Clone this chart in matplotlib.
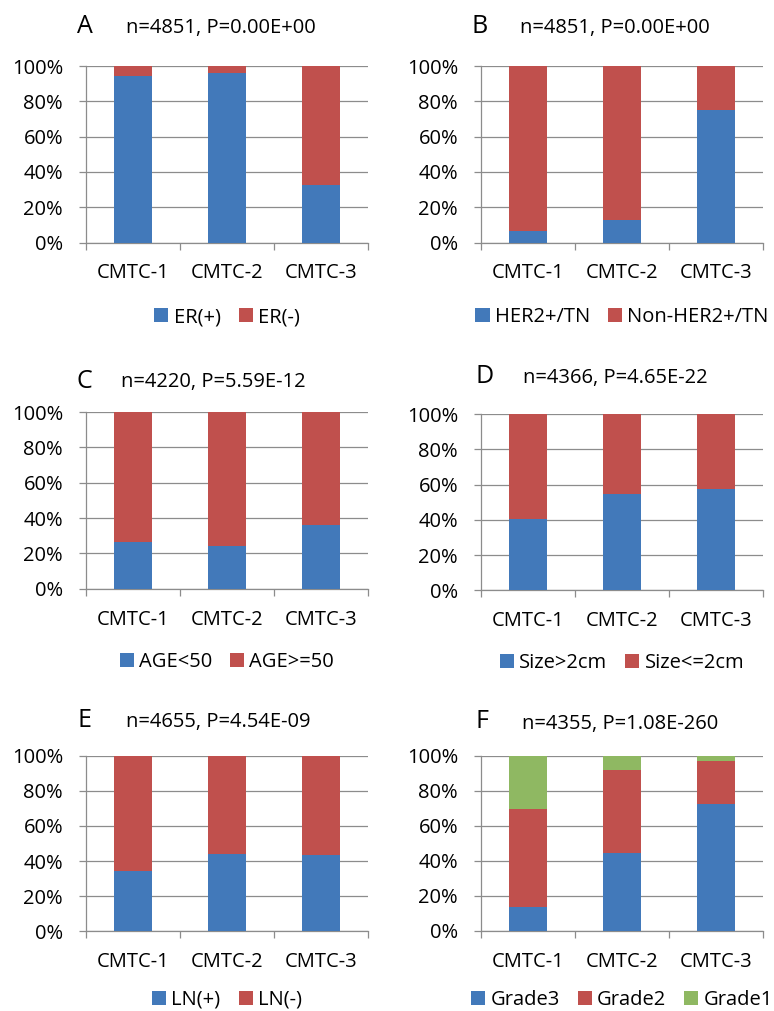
import matplotlib
matplotlib.use("Agg")
import matplotlib.pyplot as plt
from matplotlib.patches import Rectangle
from matplotlib.ticker import FuncFormatter

plt.rcParams['font.family'] = ['Open Sans', 'DejaVu Sans']

categories = ['CMTC-1', 'CMTC-2', 'CMTC-3']

er_pos = [94.3, 96.0, 32.4]
er_neg = [5.7, 4.0, 67.6]

her2_tn = [6.3, 12.6, 74.9]
non_her2_tn = [93.7, 87.4, 25.1]

age_lt50 = [26.6, 24.3, 35.9]
age_ge50 = [73.4, 75.7, 64.1]

size_gt2 = [40.6, 54.8, 57.5]
size_le2 = [59.4, 45.2, 42.5]

ln_pos = [34.2, 44.2, 43.3]
ln_neg = [65.8, 55.8, 56.7]

grade3 = [13.5, 44.7, 72.3]
grade2 = [56.3, 47.0, 24.8]
grade1 = [30.2, 8.3, 2.9]

panel_letters = ['A', 'B', 'C', 'D', 'E', 'F']
panel_stats = ['n=4851, P=0.00E+00', 'n=4851, P=0.00E+00', 'n=4220, P=5.59E-12',
               'n=4366, P=4.65E-22', 'n=4655, P=4.54E-09', 'n=4355, P=1.08E-260']
panel_series = [
    [er_pos, er_neg],
    [her2_tn, non_her2_tn],
    [age_lt50, age_ge50],
    [size_gt2, size_le2],
    [ln_pos, ln_neg],
    [grade3, grade2, grade1],
]
panel_labels = [
    ['ER(+)', 'ER(-)'],
    ['HER2+/TN', 'Non-HER2+/TN'],
    ['AGE<50', 'AGE>=50'],
    ['Size>2cm', 'Size<=2cm'],
    ['LN(+)', 'LN(-)'],
    ['Grade3', 'Grade2', 'Grade1'],
]

colors = ['#4279BA', '#C0504D', '#8FB862']

W, H = 774, 1011
fig = plt.figure(figsize=(W / 100, H / 100), dpi=100)

# axes geometry in pixels: (left, right, top, bottom)
geom = [
    (86, 368, 66, 242.5),
    (481, 763, 66, 242.5),
    (86, 368, 412, 588.7),
    (481, 763, 414, 590.3),
    (86, 368, 755.7, 931.3),
    (481, 763, 755.7, 931.0),
]
# title positions: letter x, text x, baseline y
title_pos = [
    (77, 125.7, 33),
    (472, 519.7, 33),
    (77, 121, 387.5),
    (476, 523, 383),
    (78, 125.7, 727),
    (475, 522, 728.5),
]
legend_y = [317, 317, 662, 663, 1000, 1000]

grid_col = '#8C8C8C'
FS = 14.5

for i in range(6):
    l, r, t, b = geom[i]
    ax = fig.add_axes([l / W, 1 - b / H, (r - l) / W, (b - t) / H])
    x = list(range(len(categories)))
    bottom = [0.0] * len(categories)
    handles = []
    for s, vals in enumerate(panel_series[i]):
        ax.bar(x, vals, width=0.4, bottom=bottom, color=colors[s],
               edgecolor='none', zorder=3)
        bottom = [bb + v for bb, v in zip(bottom, vals)]
        handles.append(Rectangle((0, 0), 1, 1, facecolor=colors[s], edgecolor='none'))
    ax.set_xlim(-0.5, 2.5)
    ax.set_ylim(0, 100)
    ax.set_yticks([0, 20, 40, 60, 80, 100])
    ax.yaxis.set_major_formatter(FuncFormatter(lambda v, p: f'{v:.0f}%'))
    ax.set_xticks(x)
    ax.set_xticklabels(categories)
    ax.set_xticks([-0.5, 0.5, 1.5, 2.5], minor=True)
    ax.tick_params(axis='x', which='major', length=0, pad=15, labelsize=FS)
    ax.tick_params(axis='x', which='minor', length=5, width=0.9, color=grid_col, direction='out')
    ax.tick_params(axis='y', which='major', length=5, width=0.9, color=grid_col,
                   direction='out', pad=11.5, labelsize=FS)
    ax.grid(axis='y', color=grid_col, linewidth=0.9, zorder=0)
    for sp in ['top', 'right']:
        ax.spines[sp].set_visible(False)
    for sp in ['left', 'bottom']:
        ax.spines[sp].set_color(grid_col)
        ax.spines[sp].set_linewidth(0.9)
    ax.set_axisbelow(True)

    lx, tx, by = title_pos[i]
    fig.text(lx / W, 1 - by / H, panel_letters[i], fontsize=18, ha='left', va='baseline')
    fig.text(tx / W, 1 - by / H, panel_stats[i], fontsize=FS, ha='left', va='baseline')

    fig.legend(handles, panel_labels[i], loc='center',
               bbox_to_anchor=(((l + r) / 2) / W, 1 - legend_y[i] / H),
               ncol=len(handles), frameon=False, fontsize=FS,
               handlelength=0.7, handleheight=0.7, handletextpad=0.25,
               columnspacing=0.9, borderpad=0, borderaxespad=0)

fig.savefig('out.png', dpi=100)
